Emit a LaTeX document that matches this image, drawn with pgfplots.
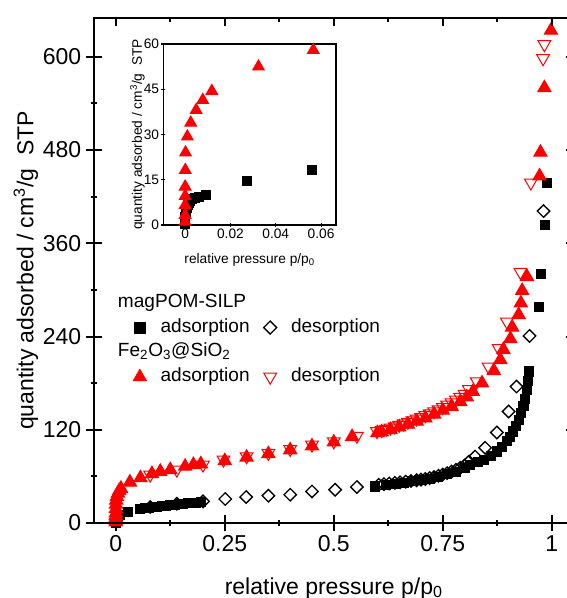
\documentclass[border=0pt]{standalone}
\usepackage{pgfplots}
\usepackage{pgfplotstable}
\pgfplotsset{compat=1.18}
\usepackage{fontspec}
\setmainfont{Liberation Sans}

\pgfplotstableread{
x y
0.00000 0.5
0.00002 1.5
0.00008 2.5
0.00020 3.5
0.00040 4.5
0.00070 5.5
0.00110 6.5
0.00160 7.2
0.00230 7.9
0.00320 8.5
0.00450 9.0
0.00600 9.4
0.00930 9.9
0.0272 14.5
0.0559 18.2
0.068 19.2
0.077 19.8
0.086 20.4
0.095 21.1
0.105 21.8
0.115 22.4
0.125 23.0
0.135 23.6
0.145 24.2
0.155 24.8
0.165 25.3
0.175 25.8
0.185 26.3
0.195 26.8
0.595 47.0
0.620 49.0
0.640 50.5
0.660 52.0
0.680 53.5
0.700 55.0
0.720 57.0
0.740 59.5
0.760 62.5
0.780 66.0
0.800 71.0
0.813 75.0
0.830 78.5
0.844 81.4
0.860 86.0
0.874 92.0
0.885 98.0
0.897 105.0
0.905 111.0
0.912 117.8
0.918 125.0
0.924 132.8
0.930 141.0
0.935 150.0
0.939 160.0
0.943 171.0
0.946 183.0
0.948 195.0
0.970 278.5
0.975 320.5
0.985 383.5
0.989 438.0
}\magads

\pgfplotstableread{
x y
0.981 401.5
0.949 240.8
0.919 175.6
0.901 143.5
0.874 116.5
0.847 96.8
0.824 85.6
0.810 79.0
0.800 74.0
0.790 71.0
0.780 68.5
0.770 66.2
0.760 64.2
0.750 62.4
0.740 60.8
0.730 59.2
0.720 57.8
0.710 56.6
0.700 55.8
0.690 55.0
0.677 54.0
0.665 53.2
0.652 52.4
0.640 51.6
0.627 50.8
0.615 50.0
0.603 49.2
0.553 46.3
0.503 42.8
0.450 40.6
0.400 36.4
0.350 35.1
0.299 33.4
0.251 30.9
0.200 27.8
0.140 24.8
0.079 20.6
}\magdes

\pgfplotstableread{
x y
0.00000 1.1
0.00001 3.3
0.00002 6.6
0.00003 9.6
0.00005 12.7
0.00010 18.2
0.00020 24.0
0.00100 29.3
0.00250 33.9
0.00490 38.1
0.00780 41.4
0.01180 44.4
0.0324 52.5
0.0566 58.0
0.083 63.4
0.102 66.3
0.125 68.5
0.159 72.8
0.178 75.0
0.195 76.0
0.250 80.0
0.300 84.5
0.350 89.0
0.400 94.0
0.450 99.0
0.500 104.0
0.542 111.0
0.600 116.0
0.610 117.0
0.630 120.0
0.650 123.5
0.670 127.0
0.690 131.0
0.710 135.0
0.730 140.0
0.750 145.0
0.770 150.0
0.790 156.0
0.805 162.0
0.819 169.0
0.840 180.0
0.867 196.0
0.882 210.0
0.889 223.0
0.905 237.0
0.909 252.0
0.924 268.0
0.929 283.0
0.932 299.0
0.943 317.0
0.972 446.5
0.974 477.0
0.983 560.0
0.998 634.0
}\feads

\pgfplotstableread{
x y
0.983 616
0.980 598
0.952 438
0.928 323
0.897 259
0.878 225
0.855 201
0.828 182
0.810 172
0.800 166
0.790 162
0.780 158.5
0.770 155
0.760 152
0.750 149
0.740 146
0.730 143.5
0.720 141
0.710 138.5
0.700 136
0.690 134
0.680 132
0.670 130
0.660 128
0.650 126
0.640 124
0.630 122.5
0.620 121
0.610 119.5
0.599 118
0.553 112
0.500 104.9
0.450 100.7
0.400 95.0
0.350 90.0
0.300 85.6
0.247 81.4
0.200 75.0
0.140 68.5
0.079 62.0
}\fedes

\begin{document}
\begin{tikzpicture}
\begin{axis}[
  name=main,
  at={(0pt,0pt)}, anchor=south west,
  scale only axis, width=359.7pt, height=378.75pt,
  xmin=-0.05, xmax=1.05, ymin=0, ymax=650,
  xtick={0,0.25,0.5,0.75,1}, xticklabels={0,0.25,0.5,0.75,1},
  ytick={0,120,240,360,480,600},
  minor x tick num=1, minor y tick num=1,
  xtick pos=left, ytick pos=left,
  tick align=center, major tick length=12pt, minor tick length=5pt,
  axis line style={line width=1.5pt},
  every tick/.style={black, line width=1.5pt},
  /pgf/number format/assume math mode=true,
  tick label style={font=\fontsize{17.25}{20}\selectfont},
  xlabel={relative pressure p/p\textsubscript{0}},
  ylabel={quantity adsorbed / cm\textsuperscript{3}/g\ \ STP},
  every axis x label/.style={at={(axis description cs:0.5,-0.1406)}, anchor=base, font=\fontsize{17.25}{20}\selectfont},
  every axis y label/.style={at={(axis description cs:-0.1266,0.5)}, anchor=base, rotate=90, font=\fontsize{17.25}{20}\selectfont},
  legend columns=2,
  legend image code/.code={\draw[#1] plot coordinates {(0pt,0pt)}; \path (-6pt,0pt) (6pt,0pt);},
  legend style={at={(axis description cs:0.0778,0.4535)}, anchor=north west,
    draw=none, fill=none, inner sep=0pt, row sep=5.5pt,
    font=\fontsize{14.3}{17}\selectfont,
    nodes={inner sep=0pt, text height=10pt, text depth=3pt},
    cells={anchor=west},
    /tikz/every odd column/.append style={column sep=9.4pt},
    /tikz/every even column/.append style={column sep=9.2pt}},
]
\addplot[forget plot, only marks, mark=square*, mark size=3.4pt, black, mark options={line width=0.75pt}] table {\magads};
\addplot[forget plot, only marks, mark=square, mark size=3.3pt, black, mark options={rotate=45, fill=white, line width=1pt}] table {\magdes};
\addplot[forget plot, only marks, mark=triangle*, mark size=5.7pt, red, mark options={line width=0.75pt}] table {\feads};
\addplot[forget plot, only marks, mark=triangle, mark size=5.5pt, red, mark options={rotate=180, line width=0.75pt}] table {\fedes};

\addlegendimage{empty legend}
\addlegendentry{\makebox[0pt][l]{\hspace*{-32.5pt}magPOM-SILP}}
\addlegendimage{empty legend}
\addlegendentry{}
\addlegendimage{only marks, mark=square*, mark size=4.2pt, black}
\addlegendentry{adsorption}
\addlegendimage{only marks, mark=square, mark size=3.45pt, black, mark options={rotate=45, line width=1pt}}
\addlegendentry{desorption}
\addlegendimage{empty legend}
\addlegendentry{\makebox[0pt][l]{\hspace*{-32.5pt}Fe\textsubscript{2}O\textsubscript{3}@SiO\textsubscript{2}}}
\addlegendimage{empty legend}
\addlegendentry{}
\addlegendimage{only marks, mark=triangle*, mark size=5.9pt, red}
\addlegendentry{adsorption}
\addlegendimage{only marks, mark=triangle, mark size=5.5pt, red, mark options={rotate=180, line width=0.75pt}}
\addlegendentry{desorption}
\end{axis}

\begin{axis}[
  at={(0pt,0pt)}, anchor=south west,
  scale only axis, width=359.7pt, height=378.75pt,
  xmin=-0.05, xmax=1.05, ymin=0, ymax=650,
  xtick={0,0.25,0.5,0.75,1}, ytick={0,120,240,360,480,600},
  minor x tick num=1, minor y tick num=1,
  xtick pos=right, ytick pos=right,
  xticklabels={}, yticklabels={},
  tick align=inside, major tick length=6pt, minor tick length=3pt,
  axis line style={line width=1.5pt},
  every tick/.style={black, line width=1.5pt},
]
\end{axis}

\begin{axis}[
  at={(52pt,223.5pt)}, anchor=south west,
  scale only axis, width=129.5pt, height=135.75pt,
  xmin=-0.0096, xmax=0.0666, ymin=0, ymax=60,
  scaled x ticks=false, scaled y ticks=false,
  xtick={0,0.02,0.04,0.06}, xticklabels={0,0.02,0.04,0.06},
  ytick={0,15,30,45,60},
  xtick pos=left, ytick pos=left,
  tick align=center, major tick length=3pt,
  axis background/.style={fill=white},
  axis line style={line width=0.8pt},
  every tick/.style={black, line width=0.8pt},
  /pgf/number format/assume math mode=true,
  tick label style={font=\fontsize{10.3}{12}\selectfont, inner sep=1.5pt},
  xlabel={relative pressure p/p\textsubscript{0}},
  ylabel={quantity adsorbed / cm\textsuperscript{3}/g\ \ STP},
  every axis x label/.style={at={(axis description cs:0.5,-0.21)}, anchor=base, font=\fontsize{10.3}{12}\selectfont},
  every axis y label/.style={at={(axis description cs:-0.125,0.5)}, anchor=base, rotate=90, font=\fontsize{10.3}{12}\selectfont},
]
\addplot[only marks, mark=square*, mark size=3.4pt, black, mark options={line width=0.75pt}, restrict x to domain=-0.01:0.066] table {\magads};
\addplot[only marks, mark=triangle*, mark size=5pt, red, mark options={line width=0.75pt}, restrict x to domain=-0.01:0.066] table {\feads};
\end{axis}

\pgfresetboundingbox
\useasboundingbox (-70.5pt,-56.25pt) rectangle (354pt,392.25pt);
\end{tikzpicture}
\end{document}
